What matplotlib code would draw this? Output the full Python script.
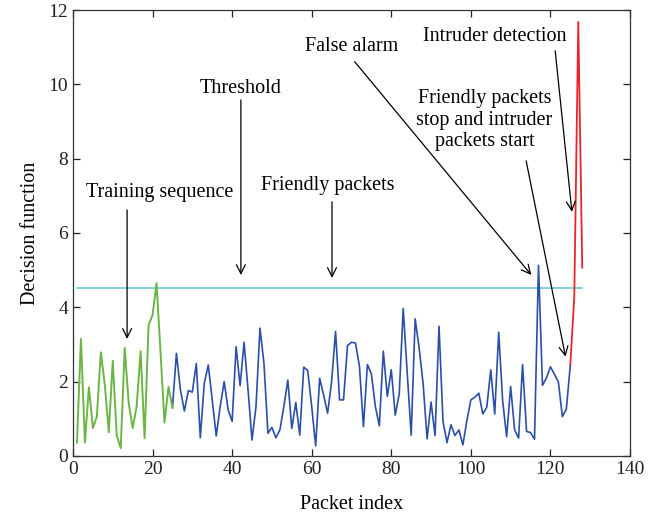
import matplotlib
matplotlib.use("Agg")
import matplotlib.pyplot as plt

plt.rcParams['font.family'] = ['Liberation Serif', 'DejaVu Serif']

# training sequence (packets 1-25)
train_idx = list(range(1, 26))
train_val = [0.36, 3.15, 0.36, 1.85, 0.75, 1.06, 2.79, 1.91, 0.64, 2.56,
             0.55, 0.21, 2.91, 1.43, 0.75, 1.33, 2.82, 0.48, 3.52, 3.79,
             4.65, 2.80, 0.90, 1.86, 1.30]

# friendly packets (25-125)
friend_idx = list(range(25, 126))
friend_val = [1.30, 2.76, 1.78, 1.21, 1.76, 1.72, 2.49, 0.49, 1.96, 2.45,
              1.51, 0.54, 1.33, 2.00, 1.24, 0.93, 2.94, 1.89, 3.06, 1.78,
              0.43, 1.33, 3.44, 2.49, 0.61, 0.77, 0.49, 0.70, 1.33, 2.04,
              0.74, 1.44, 0.56, 2.39, 2.30, 1.33, 0.27, 2.09, 1.64, 1.15,
              2.00, 3.35, 1.51, 1.51, 2.97, 3.06, 3.04, 2.41, 0.79, 2.46,
              2.21, 1.33, 0.81, 2.82, 1.60, 2.32, 1.10, 1.67, 3.97, 2.25,
              0.56, 3.69, 2.91, 1.95, 0.46, 1.45, 0.55, 3.49, 0.93, 0.36,
              0.84, 0.55, 0.70, 0.30, 0.95, 1.51, 1.58, 1.69, 1.13, 1.31,
              2.32, 1.13, 3.33, 1.47, 0.52, 1.87, 0.70, 0.48, 2.46, 0.66,
              0.63, 0.45, 5.13, 1.90, 2.10, 2.40, 2.20, 1.99, 1.06, 1.26,
              2.45]

# intruder packets (125-128)
intr_idx = [125, 126, 127, 128]
intr_val = [2.45, 4.30, 11.68, 5.07]

thr_x = [1, 128]
thr_y = 4.53

fig = plt.figure(figsize=(6.72, 5.21), dpi=100)
ax = fig.add_axes([0.1086, 0.1248, 0.8289, 0.856])

ax.plot(thr_x, [thr_y, thr_y], color='#5cc6d6', lw=1.1)
ax.plot(friend_idx, friend_val, color='#2b4fa6', lw=1.2)
ax.plot(train_idx, train_val, color='#6cb545', lw=1.4)
ax.plot(intr_idx, intr_val, color='#e8242c', lw=1.3)

ax.set_xlim(0, 140)
ax.set_ylim(0, 12)
ax.set_xticks(range(0, 141, 20))
ax.set_yticks(range(0, 13, 2))
ax.tick_params(direction='in', length=5, width=0.9, top=True, right=True,
               labelsize=14, colors='#222222')
for s in ax.spines.values():
    s.set_linewidth(0.9)
    s.set_color('#333333')

ax.set_xlabel('Packet index', fontsize=14.5, labelpad=12)
ax.set_ylabel('Decision function', fontsize=14.5, labelpad=6)

fs = 14.5
ax.text(21.8, 7.08, 'Training sequence', fontsize=fs, ha='center', va='center')
ax.text(42.1, 9.9, 'Threshold', fontsize=fs, ha='center', va='center')
ax.text(64.0, 7.29, 'Friendly packets', fontsize=fs, ha='center', va='center')
ax.text(70.0, 11.03, 'False alarm', fontsize=fs, ha='center', va='center')
ax.text(106.1, 11.3, 'Intruder detection', fontsize=fs, ha='center', va='center')
ax.text(103.4, 9.04, 'Friendly packets\nstop and intruder\npackets start',
        fontsize=fs, ha='center', va='center', linespacing=1.15)

arrows = [
    ((13.6, 6.62), (13.6, 3.15)),
    ((42.2, 9.58), (42.2, 4.87)),
    ((65.1, 6.84), (65.1, 4.79)),
    ((70.8, 10.61), (115.2, 4.87)),
    ((121.2, 10.9), (125.4, 6.57)),
    ((113.9, 7.94), (123.8, 2.67)),
]
for tail, tip in arrows:
    ax.annotate('', xy=tip, xytext=tail,
                arrowprops=dict(arrowstyle='->', color='black', lw=0.9,
                                mutation_scale=16, shrinkA=0, shrinkB=0))

fig.savefig('out.png', dpi=100)
